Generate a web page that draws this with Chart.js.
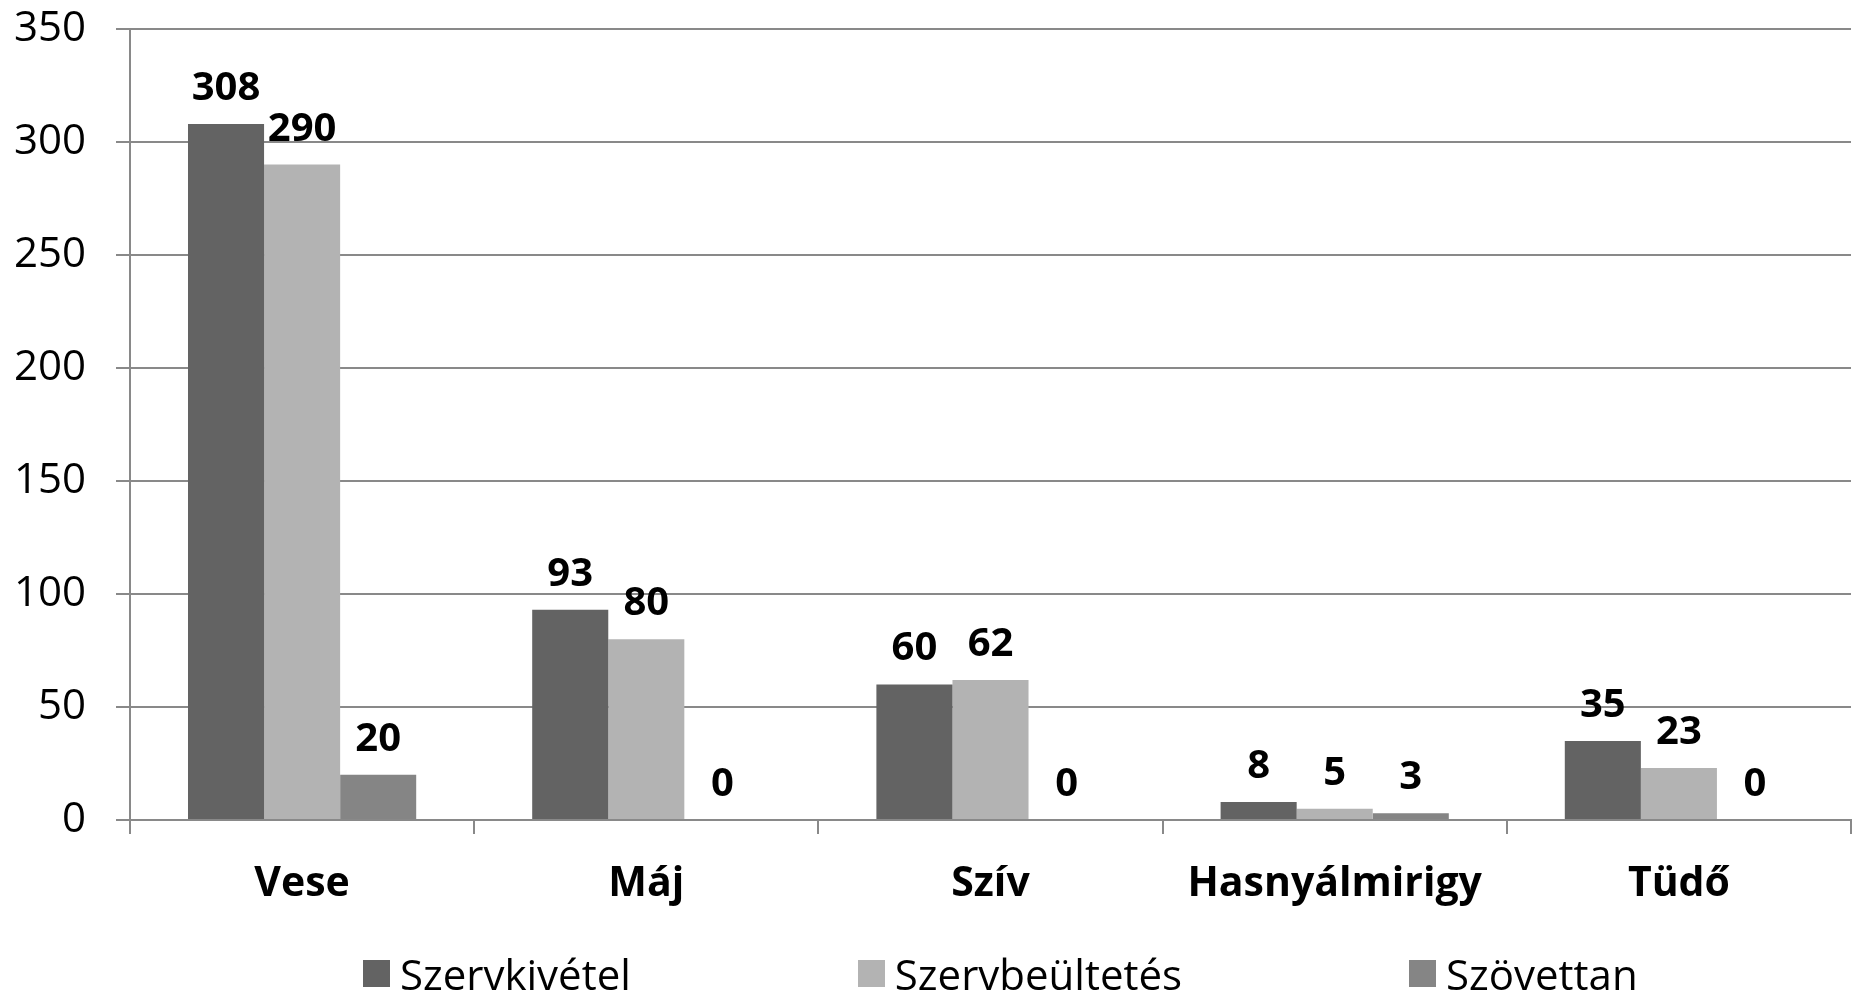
<!DOCTYPE html>
<html>
<head>
<meta charset="utf-8">
<script src="https://cdn.jsdelivr.net/npm/chart.js@4.4.1/dist/chart.umd.min.js"></script>
<style>
  html, body { margin: 0; padding: 0; background: #fff; overflow: hidden; }
  #wrap { position: relative; width: 1855px; height: 994px; }
  #legend {
    position: absolute; left: 363px; top: 945px;
    display: flex; gap: 227px; align-items: center;
    font-family: 'Open Sans', sans-serif; font-size: 42px; color: #000;
    white-space: nowrap;
  }
  #legend .item { display: flex; align-items: center; }
  #legend .box { width: 27px; height: 27px; margin-right: 10px; }
</style>
</head>
<body>
<div id="wrap">
  <canvas id="chart" width="1855" height="994"></canvas>
  <div id="legend"></div>
</div>
<script>
var categories = ['Vese', 'Máj', 'Szív', 'Hasnyálmirigy', 'Tüdő'];
var seriesNames = ['Szervkivétel', 'Szervbeültetés', 'Szövettan'];
var szervkivetel = [308, 93, 60, 8, 35];
var szervbeultetes = [290, 80, 62, 5, 23];
var szovettan = [20, 0, 0, 3, 0];
var yTicks = [0, 50, 100, 150, 200, 250, 300, 350];

var colors = ['#636363', '#b3b3b3', '#858585'];
var gridColor = '#898989';

// value labels above each bar
var barLabels = {
  id: 'barLabels',
  afterDatasetsDraw: function(chart) {
    var ctx = chart.ctx;
    ctx.save();
    ctx.font = 'bold 40px "Open Sans", sans-serif';
    ctx.fillStyle = '#000';
    ctx.textAlign = 'center';
    ctx.textBaseline = 'alphabetic';
    chart.data.datasets.forEach(function(ds, i) {
      chart.getDatasetMeta(i).data.forEach(function(bar, j) {
        ctx.fillText(String(ds.data[j]), bar.x, bar.y - 24);
      });
    });
    ctx.restore();
  }
};

var chart = new Chart(document.getElementById('chart'), {
  type: 'bar',
  data: {
    labels: categories,
    datasets: [
      { label: seriesNames[0], data: szervkivetel, backgroundColor: colors[0] },
      { label: seriesNames[1], data: szervbeultetes, backgroundColor: colors[1] },
      { label: seriesNames[2], data: szovettan, backgroundColor: colors[2] }
    ]
  },
  options: {
    responsive: false, animation: false,
    layout: { padding: { top: 0, right: 4, bottom: 74, left: 0 } },
    categoryPercentage: 0.663, barPercentage: 1,
    plugins: { legend: { display: false }, tooltip: { enabled: false } },
    scales: {
      x: {
        grid: { drawOnChartArea: false, drawTicks: true, tickLength: 14, offset: true, color: gridColor, lineWidth: 2 },
        border: { color: gridColor, width: 2 },
        ticks: { color: '#000', padding: 26, font: { family: 'Open Sans', size: 41, weight: 'bold' } },
        afterFit: function(s) { s.height = 100; }
      },
      y: {
        min: 0, max: 350,
        afterBuildTicks: function(s) { s.ticks = yTicks.map(function(v) { return { value: v }; }); },
        grid: { color: gridColor, lineWidth: 2, tickLength: 14 },
        border: { color: gridColor, width: 2 },
        ticks: { color: '#000', padding: 30, font: { family: 'Open Sans', size: 42 } },
        afterFit: function(s) { s.width = 130; s.paddingTop = 29; s.paddingBottom = 25; }
      }
    }
  },
  plugins: [barLabels]
});

document.getElementById('legend').innerHTML = seriesNames.map(function(n, i) {
  return '<span class="item"><span class="box" style="background:' + colors[i] + '"></span>' + n + '</span>';
}).join('');
</script>
</body>
</html>
